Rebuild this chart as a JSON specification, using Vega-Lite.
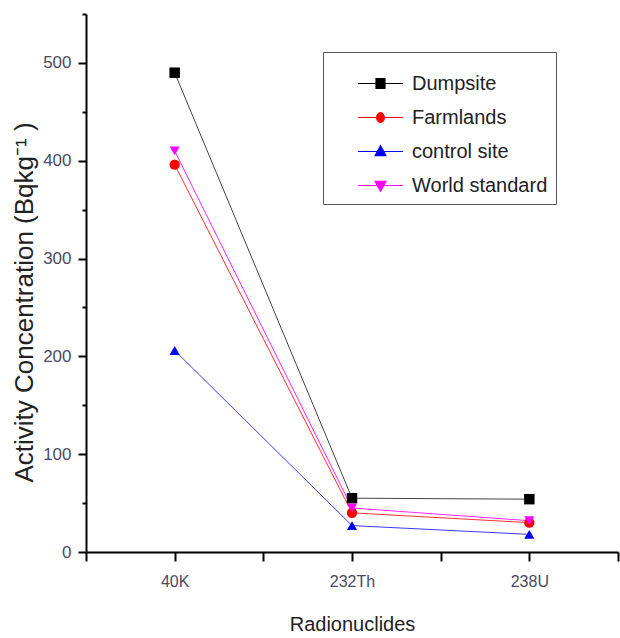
{
  "$schema": "https://vega.github.io/schema/vega-lite/v6.json",
  "width": 532,
  "height": 538,
  "autosize": "none",
  "padding": {"left": 86, "top": 14, "right": 2, "bottom": 86},
  "background": "white",
  "config": {
    "font": "Liberation Sans, Arial, sans-serif",
    "view": {"stroke": null}
  },
  "data": {
    "values": [
      {"series": "Dumpsite", "nuclide": "40K", "pos": 1, "value": 490},
      {"series": "Dumpsite", "nuclide": "232Th", "pos": 2, "value": 55},
      {"series": "Dumpsite", "nuclide": "238U", "pos": 3, "value": 54},
      {"series": "Farmlands", "nuclide": "40K", "pos": 1, "value": 396},
      {"series": "Farmlands", "nuclide": "232Th", "pos": 2, "value": 40},
      {"series": "Farmlands", "nuclide": "238U", "pos": 3, "value": 30},
      {"series": "control site", "nuclide": "40K", "pos": 1, "value": 206},
      {"series": "control site", "nuclide": "232Th", "pos": 2, "value": 27},
      {"series": "control site", "nuclide": "238U", "pos": 3, "value": 18},
      {"series": "World standard", "nuclide": "40K", "pos": 1, "value": 410},
      {"series": "World standard", "nuclide": "232Th", "pos": 2, "value": 45},
      {"series": "World standard", "nuclide": "238U", "pos": 3, "value": 32}
    ]
  },
  "encoding": {
    "x": {
      "field": "pos",
      "type": "quantitative",
      "scale": {"domain": [0.5, 3.5], "nice": false, "zero": false},
      "axis": {
        "title": "Radionuclides",
        "titleFontSize": 20,
        "titleFontWeight": "normal",
        "titleColor": "#222",
        "titlePadding": 25,
        "values": [0.5, 1, 1.5, 2, 2.5, 3, 3.5],
        "labelExpr": "datum.value == 1 ? '40K' : datum.value == 2 ? '232Th' : datum.value == 3 ? '238U' : ''",
        "labelFontSize": 16,
        "labelColor": "#4a4a5e",
        "labelPadding": 12,
        "labelFlush": false,
        "labelOverlap": false,
        "grid": false,
        "domainColor": "#000",
        "domainWidth": 2,
        "tickColor": "#000",
        "tickWidth": 2,
        "tickSize": 9
      }
    },
    "y": {
      "field": "value",
      "type": "quantitative",
      "scale": {"domain": [0, 550], "nice": false},
      "axis": {
        "title": "Activity Concentration (Bqkg⁻¹ )",
        "titleFontSize": 26,
        "titleFontWeight": "normal",
        "titleColor": "#222",
        "titleX": -62,
        "titleY": 288,
        "titleAngle": 270,
        "titleAlign": "center",
        "titleBaseline": "middle",
        "values": [0, 50, 100, 150, 200, 250, 300, 350, 400, 450, 500, 550],
        "labelExpr": "datum.value % 100 == 0 && datum.value < 550 ? datum.label : ''",
        "labelFontSize": 17,
        "labelColor": "#4a4a5e",
        "labelPadding": 7,
        "grid": false,
        "domainColor": "#000",
        "domainWidth": 2,
        "tickColor": "#000",
        "tickWidth": 2,
        "tickSize": {"condition": {"test": "datum.value % 100 == 0", "value": 8}, "value": 4}
      }
    }
  },
  "layer": [
    {
      "mark": {"type": "line", "strokeWidth": 1},
      "encoding": {
        "color": {
          "field": "series",
          "type": "nominal",
          "scale": {"domain": ["Dumpsite", "Farmlands", "control site", "World standard"], "range": ["#444444", "#ff3030", "#3a3aff", "#ff22ff"]},
          "legend": null
        },
        "detail": {"field": "series"}
      }
    },
    {
      "mark": {"type": "point", "filled": true, "opacity": 1},
      "encoding": {
        "color": {
          "field": "series",
          "type": "nominal",
          "scale": {"domain": ["Dumpsite", "Farmlands", "control site", "World standard"], "range": ["#000000", "#ff0000", "#0000ff", "#ff00ff"]},
          "legend": null
        },
        "shape": {
          "field": "series",
          "type": "nominal",
          "scale": {"domain": ["Dumpsite", "Farmlands", "control site", "World standard"], "range": ["square", "circle", "triangle-up", "triangle-down"]},
          "legend": null
        },
        "size": {
          "field": "series",
          "type": "nominal",
          "scale": {"domain": ["Dumpsite", "Farmlands", "control site", "World standard"], "range": [110, 100, 120, 120]},
          "legend": null
        }
      }
    },
    {
      "transform": [{"filter": "datum.value < 0"}],
      "mark": {"type": "point", "strokeWidth": 1.2, "opacity": 1},
      "encoding": {
        "fill": {
          "field": "series",
          "type": "nominal",
          "scale": {"domain": ["Dumpsite", "Farmlands", "control site", "World standard"], "range": ["#000000", "#ff0000", "#0000ff", "#ff00ff"]},
          "legend": {"title": null}
        },
        "stroke": {
          "field": "series",
          "type": "nominal",
          "scale": {"domain": ["Dumpsite", "Farmlands", "control site", "World standard"], "range": ["#000000", "#ff0000", "#0000ff", "#ff00ff"]},
          "legend": {"title": null}
        },
        "shape": {
          "field": "series",
          "type": "nominal",
          "scale": {"domain": ["Dumpsite", "Farmlands", "control site", "World standard"], "range": [
            "M-1,0H1M-0.2,-0.22H0.2V0.22H-0.2Z",
            "M-1,0H1M0.17,0A0.17,0.22,0,1,1,-0.17,0A0.17,0.22,0,1,1,0.17,0Z",
            "M-1,0H1M0,-0.26L0.24,0.18H-0.24Z",
            "M-1,0H1M0,0.26L0.24,-0.18H-0.24Z"
          ]},
          "legend": {
            "title": null,
            "orient": "none",
            "legendX": 237,
            "legendY": 38,
            "symbolSize": 2025,
            "symbolStrokeWidth": 1.2,
            "symbolOffset": 26,
            "labelFontSize": 20,
            "labelColor": "#222",
            "labelOffset": 8,
            "strokeColor": "#555",
            "padding": 8,
            "rowPadding": 0,
            "fillColor": "white"
          }
        }
      }
    }
  ],
  "resolve": {"scale": {"color": "independent", "shape": "independent", "fill": "independent", "stroke": "independent"}}
}
